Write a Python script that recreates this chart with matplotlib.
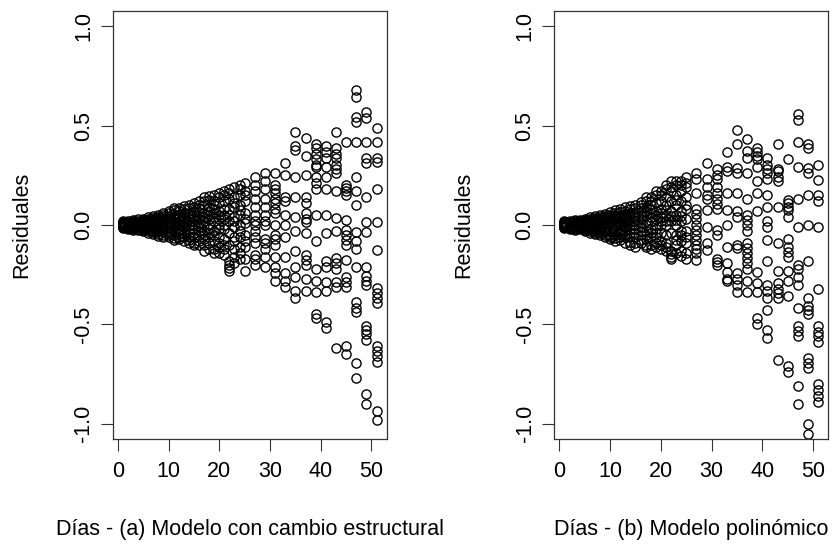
import matplotlib
matplotlib.use("Agg")
import matplotlib.pyplot as plt

plt.rcParams['font.family'] = ['Liberation Sans', 'DejaVu Sans']

# ---------------- data ----------------
days_early = list(range(1, 26))
days_late = list(range(27, 52, 2))

resid_a_early = [
    [0.02, 0.01, 0.005, 0.0, -0.005, -0.01, 0.015, -0.015, 0.008, -0.003, 0.012, -0.008],
    [0.02, 0.012, 0.0, -0.01, -0.02, 0.005, -0.005, 0.01, 0.016, -0.014, 0.003, -0.017],
    [0.025, 0.01, 0.0, -0.015, -0.02, 0.005, -0.01, 0.015, 0.02, -0.005, -0.025, 0.008],
    [0.02, 0.01, 0.0, -0.01, -0.025, 0.005, -0.005, 0.015, 0.028, -0.018, 0.003, -0.012],
    [0.03, 0.015, 0.0, -0.015, -0.03, 0.01, -0.02, 0.02, 0.005, -0.008, 0.025, -0.025],
    [0.03, 0.02, 0.005, -0.01, -0.03, 0.01, -0.02, -0.04, 0.04, 0.0, -0.015, 0.025],
    [0.035, 0.015, 0.0, -0.02, -0.035, 0.025, -0.01, 0.005, 0.045, -0.045, 0.01, -0.028],
    [0.04, 0.02, 0.0, -0.02, -0.045, 0.01, -0.03, 0.03, 0.05, -0.01, -0.055, 0.015],
    [0.05, 0.03, 0.01, -0.01, -0.035, 0.02, -0.05, 0.0, 0.04, -0.025, 0.06, -0.06],
    [0.06, 0.035, 0.01, -0.015, -0.04, 0.02, -0.06, 0.045, 0.07, -0.03, 0.0, -0.05],
    [0.075, 0.04, 0.015, -0.01, -0.05, 0.03, -0.065, 0.0, 0.055, -0.03, 0.085, -0.075],
    [0.07, 0.05, 0.02, -0.02, -0.045, 0.0, -0.07, 0.035, 0.085, -0.06, 0.01, -0.03],
    [0.08, 0.045, 0.01, -0.03, -0.06, 0.025, -0.08, 0.06, 0.095, -0.045, -0.01, 0.035],
    [0.085, 0.06, 0.03, 0.0, -0.04, -0.075, 0.015, -0.06, 0.1, -0.09, -0.02, 0.045],
    [0.09, 0.05, 0.02, -0.02, -0.06, 0.07, -0.09, -0.04, 0.11, 0.0, -0.1, 0.035],
    [0.1, 0.065, 0.03, -0.01, -0.05, -0.1, 0.045, -0.08, 0.12, 0.01, -0.03, 0.085],
    [0.14, 0.1, 0.06, 0.02, -0.03, -0.07, -0.13, -0.1, 0.04, -0.05, 0.12, 0.0],
    [0.125, 0.09, 0.05, 0.0, -0.04, -0.09, -0.12, 0.03, 0.145, -0.06, 0.07, -0.02],
    [0.15, 0.1, 0.06, 0.02, -0.03, -0.08, -0.12, 0.12, 0.04, -0.05, 0.08, -0.14],
    [0.14, 0.11, 0.07, 0.03, -0.02, -0.06, -0.11, -0.14, 0.16, 0.05, -0.09, 0.0],
    [0.17, 0.12, 0.08, 0.03, -0.02, -0.07, -0.12, -0.15, 0.0, 0.15, -0.1, 0.05],
    [0.18, 0.13, 0.08, 0.02, -0.04, -0.1, -0.18, -0.2, -0.215, -0.23, 0.16, 0.05],
    [0.19, 0.14, 0.09, 0.04, -0.01, -0.06, -0.12, -0.16, 0.11, -0.08, 0.02, -0.19],
    [0.2, 0.15, 0.1, 0.05, 0.0, -0.06, -0.11, -0.17, 0.18, -0.03, 0.075, -0.14],
    [0.21, 0.17, 0.12, 0.06, 0.01, -0.05, -0.11, -0.17, -0.23, 0.15, -0.08, 0.03],
]

resid_a_late = [
    [0.24, 0.2, 0.17, 0.13, 0.09, 0.05, 0.02, 0.0, -0.03, -0.06, -0.09, -0.15, -0.17, -0.2],
    [0.26, 0.22, 0.18, 0.13, 0.09, 0.05, 0.02, 0.0, -0.07, -0.09, -0.12, -0.16, -0.21],
    [0.26, 0.2, 0.18, 0.16, 0.13, 0.11, 0.08, 0.06, 0.0, -0.05, -0.07, -0.1, -0.16, -0.21, -0.24, -0.28],
    [0.31, 0.25, 0.14, 0.12, 0.05, 0.0, -0.06, -0.16, -0.24, -0.28, -0.31],
    [0.47, 0.40, 0.38, 0.24, 0.14, 0.04, -0.03, -0.13, -0.21, -0.26, -0.33, -0.37],
    [0.44, 0.35, 0.25, 0.14, 0.11, 0.06, 0.03, 0.015, -0.04, -0.15, -0.175, -0.2, -0.27, -0.33],
    [0.41, 0.39, 0.36, 0.33, 0.30, 0.29, 0.24, 0.21, 0.18, 0.05, -0.08, -0.22, -0.28, -0.34, -0.45, -0.47],
    [0.40, 0.37, 0.34, 0.29, 0.24, 0.18, 0.05, -0.04, -0.18, -0.21, -0.285, -0.33, -0.49, -0.52],
    [0.47, 0.39, 0.36, 0.34, 0.30, 0.28, 0.26, 0.17, 0.035, -0.03, -0.165, -0.19, -0.22, -0.285, -0.31, -0.62],
    [0.42, 0.20, 0.185, 0.17, 0.15, 0.025, -0.025, -0.05, -0.075, -0.10, -0.176, -0.26, -0.285, -0.31, -0.61, -0.65],
    [0.68, 0.645, 0.545, 0.52, 0.42, 0.24, 0.17, 0.10, -0.034, -0.08, -0.12, -0.21, -0.39, -0.42, -0.44, -0.695, -0.77],
    [0.57, 0.54, 0.42, 0.335, 0.31, 0.14, 0.017, -0.034, -0.21, -0.256, -0.28, -0.30, -0.51, -0.53, -0.55, -0.58, -0.85, -0.90],
    [0.49, 0.42, 0.335, 0.318, 0.18, 0.017, -0.126, -0.318, -0.343, -0.368, -0.393, -0.61, -0.636, -0.66, -0.69, -0.937, -0.98],
]

resid_b_early = [
    [0.015, 0.01, 0.0, -0.005, -0.01, 0.005, -0.015, 0.02, 0.008, -0.003, 0.012, -0.008],
    [0.02, 0.01, 0.0, -0.01, -0.02, 0.005, -0.005, 0.012, 0.016, -0.014, 0.003, -0.017],
    [0.02, 0.01, 0.0, -0.015, -0.02, 0.005, -0.01, 0.015, 0.025, -0.005, -0.024, 0.008],
    [0.025, 0.01, 0.0, -0.01, -0.02, 0.005, -0.005, 0.015, 0.02, -0.016, 0.003, -0.012],
    [0.03, 0.015, 0.0, -0.015, -0.025, 0.01, -0.02, 0.02, 0.005, -0.008, 0.025, -0.03],
    [0.03, 0.02, 0.005, -0.01, -0.03, 0.01, -0.02, 0.0, 0.04, -0.04, -0.015, 0.025],
    [0.035, 0.015, 0.0, -0.02, -0.04, 0.025, -0.01, 0.005, 0.045, -0.03, 0.01, -0.045],
    [0.04, 0.02, 0.0, -0.02, -0.04, 0.01, -0.03, 0.03, 0.05, -0.01, -0.05, 0.015],
    [0.045, 0.03, 0.01, -0.01, -0.035, 0.02, -0.05, 0.0, 0.055, -0.025, 0.04, -0.06],
    [0.05, 0.03, 0.01, -0.02, -0.05, 0.02, -0.07, 0.04, 0.065, -0.035, 0.0, -0.06],
    [0.06, 0.04, 0.015, -0.01, -0.05, 0.03, -0.065, 0.0, 0.075, -0.03, 0.05, -0.08],
    [0.065, 0.045, 0.02, -0.02, -0.045, 0.0, -0.075, 0.035, 0.08, -0.06, 0.01, -0.03],
    [0.07, 0.045, 0.01, -0.03, -0.06, 0.025, -0.09, 0.055, 0.09, -0.045, -0.01, 0.035],
    [0.08, 0.06, 0.03, 0.0, -0.04, -0.085, 0.015, -0.06, 0.095, -0.1, -0.02, 0.045],
    [0.085, 0.05, 0.02, -0.02, -0.06, 0.065, -0.11, -0.04, 0.1, 0.0, -0.09, 0.035],
    [0.1, 0.065, 0.03, -0.01, -0.05, -0.09, 0.045, -0.075, 0.115, 0.01, -0.03, 0.085],
    [0.12, 0.09, 0.05, 0.02, -0.03, -0.07, -0.1, 0.0, 0.14, -0.05, 0.07, -0.11],
    [0.14, 0.1, 0.06, 0.02, -0.02, -0.06, -0.1, 0.12, 0.04, -0.04, 0.08, -0.12],
    [0.15, 0.11, 0.07, 0.03, -0.02, -0.06, -0.09, -0.11, 0.17, 0.05, -0.04, 0.0],
    [0.17, 0.12, 0.08, 0.04, 0.0, -0.04, -0.08, -0.12, 0.15, 0.06, -0.1, 0.02],
    [0.18, 0.14, 0.1, 0.05, 0.0, -0.05, -0.09, -0.13, 0.02, 0.2, -0.11, 0.075],
    [0.22, 0.17, 0.12, 0.07, 0.02, -0.04, -0.13, -0.145, -0.16, -0.17, 0.19, 0.045],
    [0.2, 0.15, 0.1, 0.05, 0.0, -0.05, -0.1, -0.14, 0.22, 0.125, -0.075, 0.025],
    [0.22, 0.17, 0.12, 0.07, 0.02, -0.03, -0.08, -0.13, 0.2, -0.155, 0.045, -0.05],
    [0.24, 0.19, 0.14, 0.08, 0.03, -0.03, -0.09, -0.14, -0.17, 0.21, -0.06, 0.1],
]

resid_b_late = [
    [0.26, 0.23, 0.16, 0.08, 0.055, 0.03, 0.0, -0.025, -0.05, -0.075, -0.1, -0.12, -0.14, -0.175],
    [0.31, 0.23, 0.19, 0.15, 0.13, 0.075, -0.01, -0.09, -0.125],
    [0.28, 0.25, 0.23, 0.19, 0.16, 0.13, 0.105, 0.08, -0.025, -0.05, -0.17, -0.185, -0.2],
    [0.37, 0.29, 0.27, 0.16, 0.075, 0.0, -0.11, -0.19, -0.235, -0.27, -0.28],
    [0.48, 0.41, 0.285, 0.26, 0.16, 0.07, 0.04, -0.10, -0.115, -0.24, -0.27, -0.30, -0.34],
    [0.435, 0.375, 0.335, 0.26, 0.13, 0.05, 0.025, 0.0, -0.03, -0.09, -0.115, -0.14, -0.165, -0.19, -0.22, -0.28, -0.34],
    [0.39, 0.37, 0.35, 0.33, 0.29, 0.22, 0.16, 0.07, -0.235, -0.29, -0.34, -0.47, -0.50],
    [0.34, 0.30, 0.28, 0.26, 0.23, 0.15, 0.09, 0.02, -0.01, -0.075, -0.18, -0.30, -0.33, -0.37, -0.43, -0.53, -0.57],
    [0.41, 0.28, 0.27, 0.24, 0.22, 0.09, -0.09, -0.23, -0.29, -0.32, -0.345, -0.37, -0.68],
    [0.33, 0.125, 0.11, 0.09, 0.075, 0.04, -0.07, -0.11, -0.135, -0.16, -0.23, -0.28, -0.36, -0.71, -0.74],
    [0.56, 0.53, 0.42, 0.29, 0.13, -0.01, -0.2, -0.22, -0.26, -0.3, -0.42, -0.51, -0.535, -0.56, -0.81, -0.9],
    [0.41, 0.39, 0.285, 0.26, 0.15, 0.0, -0.18, -0.37, -0.41, -0.43, -0.45, -0.67, -0.695, -0.72, -1.0, -1.055],
    [0.30, 0.226, 0.15, 0.12, -0.01, -0.32, -0.51, -0.54, -0.56, -0.59, -0.80, -0.83, -0.86, -0.89],
]

x_ticks = [0, 10, 20, 30, 40, 50]
y_ticks = [-1.0, -0.5, 0.0, 0.5, 1.0]
y_tick_labels = ["-1.0", "-0.5", "0.0", "0.5", "1.0"]
xlabel_a = "Días - (a) Modelo con cambio estructural"
xlabel_b = "Días - (b) Modelo polinómico"
ylabel = "Residuales"


def flatten(days, groups):
    xs, ys = [], []
    for d, g in zip(days, groups):
        for v in g:
            xs.append(d)
            ys.append(v)
    return xs, ys


W, H = 834, 552
FS = 15.5
fig = plt.figure(figsize=(W / 100, H / 100), dpi=100)

panels = [
    (112.7, resid_a_early, resid_a_late, xlabel_a),
    (554.3, resid_b_early, resid_b_late, xlabel_b),
]
ax_w, top_px, bot_px = 274.0, 10.6, 439.4

for left_px, early, late, xlab in panels:
    ax = fig.add_axes([left_px / W, 1 - bot_px / H, ax_w / W, (bot_px - top_px) / H])
    x1, y1 = flatten(days_early, early)
    x2, y2 = flatten(days_late, late)
    ax.plot(x1 + x2, y1 + y2, linestyle='none', marker='o', markersize=6.6,
            markerfacecolor='none', markeredgecolor='black', markeredgewidth=1.0)
    ax.set_xlim(-1, 53)
    ax.set_ylim(-1.08, 1.08)
    ax.set_xticks(x_ticks)
    ax.set_yticks(y_ticks)
    ax.set_yticklabels(y_tick_labels, rotation=90, va='center')
    ax.tick_params(direction='out', length=8.5, width=0.8, labelsize=FS, pad=5, color='#333333')
    ax.tick_params(axis='x', pad=7)
    for s in ax.spines.values():
        s.set_linewidth(0.9)
        s.set_color('#333333')
    cx = (left_px + ax_w / 2) / W
    fig.text(cx, 1 - 530 / H, xlab, ha='center', va='center', fontsize=FS)
    fig.text((left_px - 91) / W, 1 - 225 / H, ylabel, ha='center', va='center',
             rotation=90, fontsize=FS)

fig.savefig("out.png", dpi=100, facecolor='white')
